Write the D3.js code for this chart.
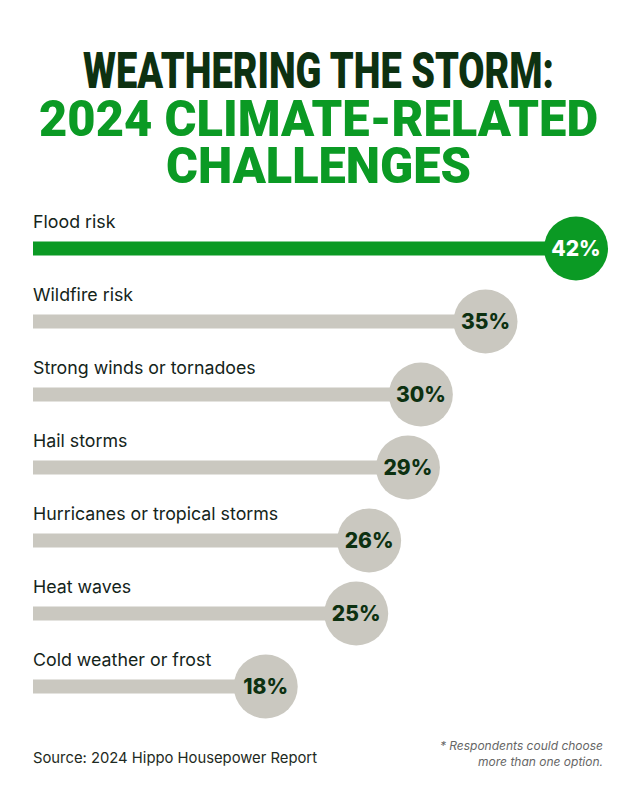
<!DOCTYPE html>
<html><head><meta charset="utf-8">
<script src="https://cdn.jsdelivr.net/npm/d3@7"></script>
<style>body{margin:0;background:#fff}svg{display:block}</style>
</head><body>
<script>
const categories = ["Flood risk","Wildfire risk","Strong winds or tornadoes","Hail storms","Hurricanes or tropical storms","Heat waves","Cold weather or frost"];
const values = [42,35,30,29,26,25,18];
const titleLines = ["WEATHERING THE STORM:","2024 CLIMATE-RELATED","CHALLENGES"];
const source = "Source: 2024 Hippo Housepower Report";
const noteLines = ["* Respondents could choose","more than one option."];

const W=636,H=810;
const svg=d3.select("body").append("svg").attr("width",W).attr("height",H);
svg.append("rect").attr("width",W).attr("height",H).attr("fill","#fff");

const green="#0b9a24", dark="#0d3111", grey="#cac8c0";

// title
const tSpec=[{y:88,fill:dark,len:471},{y:136,fill:green,len:559},{y:183,fill:green,len:305}];
titleLines.forEach((t,i)=>{
  svg.append("g").attr("transform",`translate(${W/2+0.5},${tSpec[i].y}) scale(1,1.28)`)
    .append("text").attr("x",0).attr("y",0)
    .attr("text-anchor","middle").attr("font-family","Roboto, Inter, sans-serif")
    .attr("font-weight",900).attr("font-size",39)
    .attr("textLength",tSpec[i].len).attr("lengthAdjust","spacingAndGlyphs")
    .attr("fill",tSpec[i].fill).text(t);
});

const x=d3.scaleLinear().domain([0,42]).range([33,576]);
const y=d3.scaleBand().domain(categories).range([212,723]).paddingInner(0).paddingOuter(0);
const r=32, barH=14;

const g=svg.append("g");
const rows=g.selectAll("g.row").data(categories).join("g").attr("class","row")
  .attr("transform",d=>`translate(0,${y(d)+y.bandwidth()/2})`);

rows.append("text").attr("x",33).attr("y",-21)
  .attr("font-family","Inter, sans-serif").attr("font-size",17.8).attr("fill","#14241a")
  .text(d=>d);

rows.append("rect").attr("x",x(0)).attr("y",-barH/2)
  .attr("width",(d,i)=>x(values[i])-x(0)).attr("height",barH)
  .attr("fill",(d,i)=>i===0?green:grey);

rows.append("circle").attr("cx",(d,i)=>x(values[i])).attr("cy",0).attr("r",r)
  .attr("fill",(d,i)=>i===0?green:grey);

rows.append("text").attr("x",(d,i)=>x(values[i])).attr("y",7.5)
  .attr("text-anchor","middle").attr("font-family","Inter, sans-serif")
  .attr("font-weight",800).attr("font-size",21)
  .attr("fill",(d,i)=>i===0?"#fff":dark)
  .text((d,i)=>values[i]+"%");

// footer
svg.append("text").attr("x",33).attr("y",763).attr("font-family","Inter, sans-serif")
  .attr("font-size",14.8).attr("fill","#1e2a22").text(source);
noteLines.forEach((t,i)=>{
  svg.append("text").attr("x",603).attr("y",750+i*15.5).attr("text-anchor","end")
    .attr("font-family","Inter, sans-serif").attr("font-style","italic")
    .attr("font-size",12).attr("fill","#666").text(t);
});
</script>
</body></html>
